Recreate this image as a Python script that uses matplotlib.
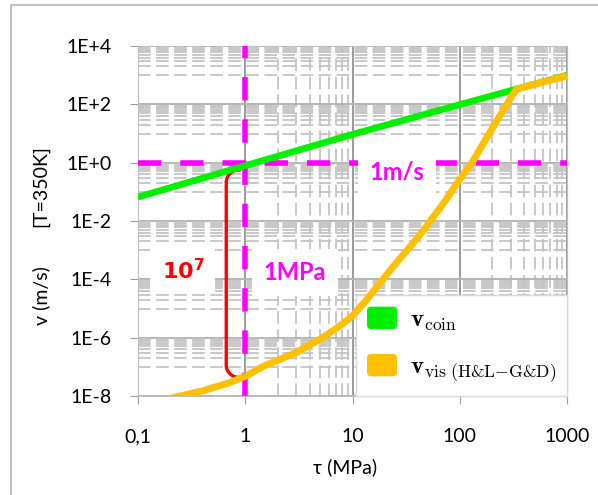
import numpy as np
import matplotlib
matplotlib.use("Agg")
import matplotlib.pyplot as plt
from matplotlib.ticker import FixedLocator, NullFormatter
from matplotlib.patches import Patch, FancyBboxPatch
from matplotlib.legend_handler import HandlerPatch
from matplotlib.font_manager import FontProperties
from matplotlib.lines import Line2D

# data
tau_coin = [0.1, 1, 10, 100, 1000]
v_coin = [0.066, 0.79, 9.3, 98, 1000]

tau_vis = [0.2, 0.4, 0.7, 1, 1.5, 2, 3, 5, 7.5, 10, 13, 18, 25, 36, 46, 74, 100, 130, 232, 306, 340, 1000]
v_vis = [8.3e-9, 1.5e-8, 2.8e-8, 4.7e-8, 1.07e-7, 1.66e-7, 3.1e-7, 8.9e-7, 2.4e-6, 5.6e-6,
         1.66e-5, 7.4e-5, 3.3e-4, 1.6e-3, 4.8e-3, 5.2e-2, 0.27, 1.0, 36, 190, 335, 950]

x_ticks = [0.1, 1, 10, 100, 1000]
x_tick_labels = ["0,1", "1", "10", "100", "1000"]
y_ticks = [1e-8, 1e-6, 1e-4, 1e-2, 1e0, 1e2, 1e4]
y_tick_labels = ["1E-8", "1E-6", "1E-4", "1E-2", "1E+0", "1E+2", "1E+4"]

label_coin = r"$\mathbf{v}_{\mathrm{coin}}$"
label_vis = r"$\mathbf{v}_{\mathrm{vis\ (H&L{-}G&D)}}$"

plt.rcParams["font.family"] = ["Lato", "DejaVu Sans"]

magenta = "#ff00ff"
green = "#00f000"
yellow = "#ffc000"

fig = plt.figure(figsize=(5.98, 4.95), dpi=100)
ax = fig.add_axes([138 / 598, 1 - 396 / 495, 429 / 598, 350 / 495])
ax.set_xscale("log")
ax.set_yscale("log")
ax.set_xlim(0.1, 1000)
ax.set_ylim(1e-8, 1e4)

ax.xaxis.set_major_locator(FixedLocator(x_ticks))
ax.set_xticklabels(x_tick_labels)
ax.yaxis.set_major_locator(FixedLocator(y_ticks))
ax.set_yticklabels(y_tick_labels)

# excel-like minor grid
x_minor = [k * 10.0 ** m for m in (0, 2) for k in range(2, 10)]
y_minor = [k * 10.0 ** m for m in (-7, -5, -3, -1, 1, 3) for k in range(1, 10)]
ax.xaxis.set_minor_locator(FixedLocator(x_minor))
ax.yaxis.set_minor_locator(FixedLocator(y_minor))
ax.xaxis.set_minor_formatter(NullFormatter())
ax.yaxis.set_minor_formatter(NullFormatter())

ax.set_axisbelow(True)
ax.grid(which="minor", color="#c4c4c4", lw=1.3, ls=(0, (7, 3)))
ax.grid(which="major", axis="y", color="#b4b4b4", lw=1.4)
ax.grid(which="major", axis="x", color="#8a8a8a", lw=1.2)
ax.tick_params(which="minor", length=0)
ax.tick_params(which="major", length=6, color="#a0a0a0", direction="out", labelsize=14)
ax.tick_params(axis="x", pad=17)
ax.tick_params(axis="y", pad=13)
for s in ax.spines.values():
    s.set_color("#bfbfbf")

# reference lines
ax.axhline(1, color=magenta, lw=4, ls=(0, (4.2, 3.4)), zorder=3)
ax.axvline(1, color=magenta, lw=4, ls=(0, (4.2, 3.4)), zorder=3)

ax.plot(tau_coin, v_coin, color=green, lw=4.8, zorder=4.2, solid_capstyle="butt")
ax.plot(tau_vis, v_vis, color=yellow, lw=5, zorder=4.5, solid_capstyle="butt")

# red bracket between the two curves at 1 MPa
top = np.log10(v_coin[1] / 1.4)
bot = np.log10(v_vis[3] * 0.92)
xv, xe = np.log10(0.665), np.log10(0.88)
rx, ry = xe - xv, 0.42
t = np.linspace(0, np.pi / 2, 20)
bx = np.concatenate([xe - rx * np.sin(t), xe - rx * np.cos(t)])
by = np.concatenate([top - ry + ry * np.cos(t), bot + ry - ry * np.sin(t)])
ax.plot(10 ** bx, 10 ** by, color="red", lw=2.4, zorder=4)

box = dict(fc="white", ec="none", boxstyle="square,pad=0.5")
ax.text(26, 0.49, "1m/s", color=magenta, fontsize=17, fontweight="bold",
        ha="center", va="center", bbox=box, zorder=3.5)
ax.text(2.92, 1.7e-4, "1MPa", color=magenta, fontsize=17, fontweight="bold",
        ha="center", va="center", bbox=box, zorder=3.5)
ax.text(0.262, 2.0e-4, r"$\mathbf{10^{7}}$", color="red", fontsize=16,
        math_fontfamily="dejavusans", ha="center", va="center", bbox=box, zorder=3.5)


def rounded(legend, orig_handle, xdescent, ydescent, width, height, fontsize):
    return FancyBboxPatch((-xdescent, -ydescent), width, height,
                          boxstyle="round,pad=0,rounding_size=3")


handles = [Patch(facecolor=green, edgecolor="none", label=label_coin),
           Patch(facecolor=yellow, edgecolor="none", label=label_vis)]
leg = ax.legend(handles=handles, loc="lower right", bbox_to_anchor=(1, 0),
                borderaxespad=0, fancybox=False, edgecolor="#d9d9d9", framealpha=1,
                prop=FontProperties(size=18, math_fontfamily="cm"),
                handlelength=1.2, handleheight=1.0, handletextpad=0.5,
                labelspacing=0.85, borderpad=0.45,
                handler_map={Patch: HandlerPatch(patch_func=rounded)})
leg.set_zorder(3.8)

fig.text(345 / 598, 1 - 467 / 495, "τ (MPa)", fontsize=14, ha="center", va="center")
fig.text(41 / 598, 1 - 186.5 / 495, "[T=350K]", fontsize=14, rotation=90, ha="center", va="center")
fig.text(41 / 598, 1 - 295.5 / 495, "v (m/s)", fontsize=14, rotation=90, ha="center", va="center")

fig.add_artist(Line2D([11 / 598, 11 / 598, 1], [0, 1 - 5 / 495, 1 - 5 / 495],
                      transform=fig.transFigure, color="#bfbfbf", lw=1.5))

fig.savefig("out.png", dpi=100)
